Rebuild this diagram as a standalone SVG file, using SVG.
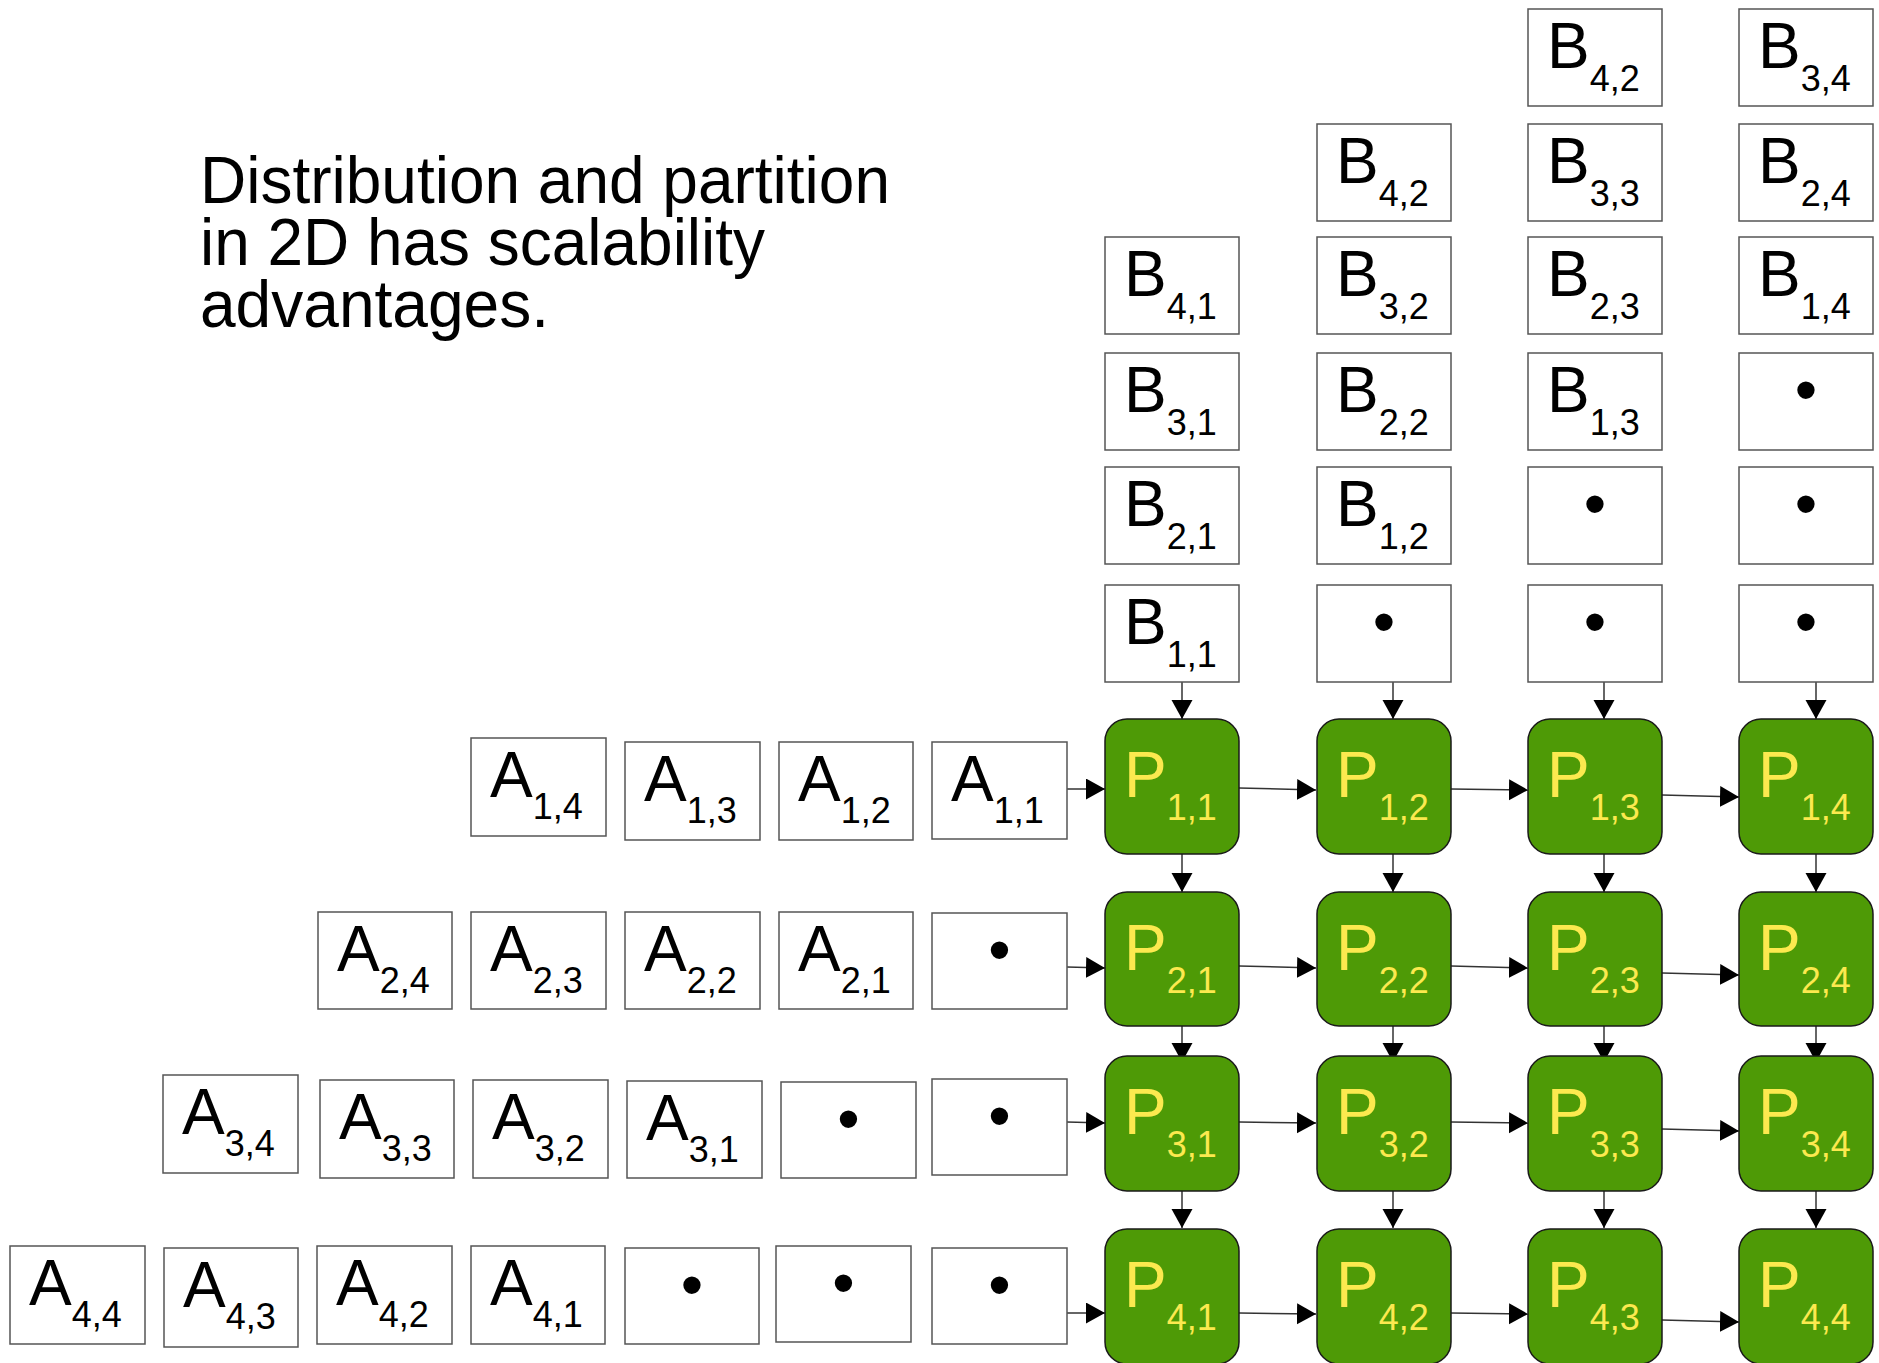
<svg xmlns="http://www.w3.org/2000/svg" width="1879" height="1363" viewBox="0 0 1879 1363">
<style>
.box{fill:#fff;stroke:#555;stroke-width:1.5}
.proc{fill:#4e9a06;stroke:#1a1a1a;stroke-width:1.5}
.lbl{font-family:"Liberation Sans",Arial,Helvetica,sans-serif;font-size:64px;fill:#000}
.plbl{fill:#fce94f}
.sub{font-size:36px}
.dot{text-anchor:middle}
.title{font-family:"Liberation Sans",Arial,Helvetica,sans-serif;font-size:66px;fill:#000}
.conn{stroke:#333;stroke-width:1.5;fill:none;marker-end:url(#ah)}
</style>
<defs>
<marker id="ah" markerUnits="userSpaceOnUse" markerWidth="20" markerHeight="22" refX="19" refY="10.5" orient="auto">
<path d="M0,0 L19,10.5 L0,21 z" fill="#000"/>
</marker>
</defs>
<rect width="1879" height="1363" fill="#fff"/>
<g id="title">
<text class="title" x="200" y="203" textLength="690" lengthAdjust="spacingAndGlyphs">Distribution and partition</text>
<text class="title" x="200" y="265" textLength="565" lengthAdjust="spacingAndGlyphs">in 2D has scalability</text>
<text class="title" x="200" y="327" textLength="349" lengthAdjust="spacingAndGlyphs">advantages.</text>
</g>
<g id="connectors">
<line class="conn" x1="1182" y1="682" x2="1182" y2="719"/>
<line class="conn" x1="1393" y1="682" x2="1393" y2="719"/>
<line class="conn" x1="1604" y1="682" x2="1604" y2="719"/>
<line class="conn" x1="1816" y1="682" x2="1816" y2="719"/>
<line class="conn" x1="1182" y1="854" x2="1182" y2="892"/>
<line class="conn" x1="1393" y1="854" x2="1393" y2="892"/>
<line class="conn" x1="1604" y1="854" x2="1604" y2="892"/>
<line class="conn" x1="1816" y1="854" x2="1816" y2="892"/>
<line class="conn" x1="1182" y1="1026" x2="1182" y2="1062"/>
<line class="conn" x1="1393" y1="1026" x2="1393" y2="1062"/>
<line class="conn" x1="1604" y1="1026" x2="1604" y2="1062"/>
<line class="conn" x1="1816" y1="1026" x2="1816" y2="1062"/>
<line class="conn" x1="1182" y1="1191" x2="1182" y2="1228"/>
<line class="conn" x1="1393" y1="1191" x2="1393" y2="1228"/>
<line class="conn" x1="1604" y1="1191" x2="1604" y2="1228"/>
<line class="conn" x1="1816" y1="1191" x2="1816" y2="1228"/>
<line class="conn" x1="1067" y1="789" x2="1105" y2="789"/>
<line class="conn" x1="1239" y1="788" x2="1316" y2="790"/>
<line class="conn" x1="1451" y1="789" x2="1528" y2="790"/>
<line class="conn" x1="1662" y1="795" x2="1739" y2="797"/>
<line class="conn" x1="1067" y1="967" x2="1105" y2="968"/>
<line class="conn" x1="1239" y1="966" x2="1316" y2="968"/>
<line class="conn" x1="1451" y1="966" x2="1528" y2="968"/>
<line class="conn" x1="1662" y1="973" x2="1739" y2="975"/>
<line class="conn" x1="1067" y1="1122" x2="1105" y2="1123"/>
<line class="conn" x1="1239" y1="1122" x2="1316" y2="1123"/>
<line class="conn" x1="1451" y1="1122" x2="1528" y2="1123"/>
<line class="conn" x1="1662" y1="1129" x2="1739" y2="1131"/>
<line class="conn" x1="1067" y1="1313" x2="1105" y2="1313"/>
<line class="conn" x1="1239" y1="1313" x2="1316" y2="1314"/>
<line class="conn" x1="1451" y1="1313" x2="1528" y2="1314"/>
<line class="conn" x1="1662" y1="1320" x2="1739" y2="1322"/>
</g>
<!-- P nodes -->
<g id="P11"><rect class="proc" x="1105" y="719" width="134" height="135" rx="22"/><text class="lbl plbl" x="1124" y="797">P<tspan class="sub" dy="23">1,1</tspan></text></g>
<g id="P12"><rect class="proc" x="1317" y="719" width="134" height="135" rx="22"/><text class="lbl plbl" x="1336" y="797">P<tspan class="sub" dy="23">1,2</tspan></text></g>
<g id="P13"><rect class="proc" x="1528" y="719" width="134" height="135" rx="22"/><text class="lbl plbl" x="1547" y="797">P<tspan class="sub" dy="23">1,3</tspan></text></g>
<g id="P14"><rect class="proc" x="1739" y="719" width="134" height="135" rx="22"/><text class="lbl plbl" x="1758" y="797">P<tspan class="sub" dy="23">1,4</tspan></text></g>
<g id="P21"><rect class="proc" x="1105" y="892" width="134" height="134" rx="22"/><text class="lbl plbl" x="1124" y="970">P<tspan class="sub" dy="23">2,1</tspan></text></g>
<g id="P22"><rect class="proc" x="1317" y="892" width="134" height="134" rx="22"/><text class="lbl plbl" x="1336" y="970">P<tspan class="sub" dy="23">2,2</tspan></text></g>
<g id="P23"><rect class="proc" x="1528" y="892" width="134" height="134" rx="22"/><text class="lbl plbl" x="1547" y="970">P<tspan class="sub" dy="23">2,3</tspan></text></g>
<g id="P24"><rect class="proc" x="1739" y="892" width="134" height="134" rx="22"/><text class="lbl plbl" x="1758" y="970">P<tspan class="sub" dy="23">2,4</tspan></text></g>
<g id="P31"><rect class="proc" x="1105" y="1056" width="134" height="135" rx="22"/><text class="lbl plbl" x="1124" y="1134">P<tspan class="sub" dy="23">3,1</tspan></text></g>
<g id="P32"><rect class="proc" x="1317" y="1056" width="134" height="135" rx="22"/><text class="lbl plbl" x="1336" y="1134">P<tspan class="sub" dy="23">3,2</tspan></text></g>
<g id="P33"><rect class="proc" x="1528" y="1056" width="134" height="135" rx="22"/><text class="lbl plbl" x="1547" y="1134">P<tspan class="sub" dy="23">3,3</tspan></text></g>
<g id="P34"><rect class="proc" x="1739" y="1056" width="134" height="135" rx="22"/><text class="lbl plbl" x="1758" y="1134">P<tspan class="sub" dy="23">3,4</tspan></text></g>
<g id="P41"><rect class="proc" x="1105" y="1229" width="134" height="135" rx="22"/><text class="lbl plbl" x="1124" y="1307">P<tspan class="sub" dy="23">4,1</tspan></text></g>
<g id="P42"><rect class="proc" x="1317" y="1229" width="134" height="135" rx="22"/><text class="lbl plbl" x="1336" y="1307">P<tspan class="sub" dy="23">4,2</tspan></text></g>
<g id="P43"><rect class="proc" x="1528" y="1229" width="134" height="135" rx="22"/><text class="lbl plbl" x="1547" y="1307">P<tspan class="sub" dy="23">4,3</tspan></text></g>
<g id="P44"><rect class="proc" x="1739" y="1229" width="134" height="135" rx="22"/><text class="lbl plbl" x="1758" y="1307">P<tspan class="sub" dy="23">4,4</tspan></text></g>
<!-- B column 1 -->
<g id="B41"><rect class="box" x="1105" y="237" width="134" height="97"/><text class="lbl" x="1124" y="296">B<tspan class="sub" dy="23">4,1</tspan></text></g>
<g id="B31"><rect class="box" x="1105" y="353" width="134" height="97"/><text class="lbl" x="1124" y="412">B<tspan class="sub" dy="23">3,1</tspan></text></g>
<g id="B21"><rect class="box" x="1105" y="467" width="134" height="97"/><text class="lbl" x="1124" y="526">B<tspan class="sub" dy="23">2,1</tspan></text></g>
<g id="B11"><rect class="box" x="1105" y="585" width="134" height="97"/><text class="lbl" x="1124" y="644">B<tspan class="sub" dy="23">1,1</tspan></text></g>
<!-- B column 2 -->
<g id="B42"><rect class="box" x="1317" y="124" width="134" height="97"/><text class="lbl" x="1336" y="183">B<tspan class="sub" dy="23">4,2</tspan></text></g>
<g id="B32"><rect class="box" x="1317" y="237" width="134" height="97"/><text class="lbl" x="1336" y="296">B<tspan class="sub" dy="23">3,2</tspan></text></g>
<g id="B22"><rect class="box" x="1317" y="353" width="134" height="97"/><text class="lbl" x="1336" y="412">B<tspan class="sub" dy="23">2,2</tspan></text></g>
<g id="B12"><rect class="box" x="1317" y="467" width="134" height="97"/><text class="lbl" x="1336" y="526">B<tspan class="sub" dy="23">1,2</tspan></text></g>
<g id="B2dot5"><rect class="box" x="1317" y="585" width="134" height="97"/><text class="lbl dot" x="1384" y="644">•</text></g>
<!-- B column 3 -->
<g id="B42top"><rect class="box" x="1528" y="9" width="134" height="97"/><text class="lbl" x="1547" y="68">B<tspan class="sub" dy="23">4,2</tspan></text></g>
<g id="B33"><rect class="box" x="1528" y="124" width="134" height="97"/><text class="lbl" x="1547" y="183">B<tspan class="sub" dy="23">3,3</tspan></text></g>
<g id="B23"><rect class="box" x="1528" y="237" width="134" height="97"/><text class="lbl" x="1547" y="296">B<tspan class="sub" dy="23">2,3</tspan></text></g>
<g id="B13"><rect class="box" x="1528" y="353" width="134" height="97"/><text class="lbl" x="1547" y="412">B<tspan class="sub" dy="23">1,3</tspan></text></g>
<g id="B3dot4"><rect class="box" x="1528" y="467" width="134" height="97"/><text class="lbl dot" x="1595" y="526">•</text></g>
<g id="B3dot5"><rect class="box" x="1528" y="585" width="134" height="97"/><text class="lbl dot" x="1595" y="644">•</text></g>
<!-- B column 4 -->
<g id="B34"><rect class="box" x="1739" y="9" width="134" height="97"/><text class="lbl" x="1758" y="68">B<tspan class="sub" dy="23">3,4</tspan></text></g>
<g id="B24"><rect class="box" x="1739" y="124" width="134" height="97"/><text class="lbl" x="1758" y="183">B<tspan class="sub" dy="23">2,4</tspan></text></g>
<g id="B14"><rect class="box" x="1739" y="237" width="134" height="97"/><text class="lbl" x="1758" y="296">B<tspan class="sub" dy="23">1,4</tspan></text></g>
<g id="B4dot3"><rect class="box" x="1739" y="353" width="134" height="97"/><text class="lbl dot" x="1806" y="412">•</text></g>
<g id="B4dot4"><rect class="box" x="1739" y="467" width="134" height="97"/><text class="lbl dot" x="1806" y="526">•</text></g>
<g id="B4dot5"><rect class="box" x="1739" y="585" width="134" height="97"/><text class="lbl dot" x="1806" y="644">•</text></g>
<!-- A row 1 -->
<g id="A14"><rect class="box" x="471" y="738" width="135" height="98"/><text class="lbl" x="490" y="797">A<tspan class="sub" dy="22">1,4</tspan></text></g>
<g id="A13"><rect class="box" x="625" y="742" width="135" height="98"/><text class="lbl" x="644" y="801">A<tspan class="sub" dy="22">1,3</tspan></text></g>
<g id="A12"><rect class="box" x="779" y="742" width="134" height="98"/><text class="lbl" x="798" y="801">A<tspan class="sub" dy="22">1,2</tspan></text></g>
<g id="A11"><rect class="box" x="932" y="742" width="135" height="97"/><text class="lbl" x="951" y="801">A<tspan class="sub" dy="22">1,1</tspan></text></g>
<!-- A row 2 -->
<g id="A24"><rect class="box" x="318" y="912" width="134" height="97"/><text class="lbl" x="337" y="971">A<tspan class="sub" dy="22">2,4</tspan></text></g>
<g id="A23"><rect class="box" x="471" y="912" width="135" height="97"/><text class="lbl" x="490" y="971">A<tspan class="sub" dy="22">2,3</tspan></text></g>
<g id="A22"><rect class="box" x="625" y="912" width="135" height="97"/><text class="lbl" x="644" y="971">A<tspan class="sub" dy="22">2,2</tspan></text></g>
<g id="A21"><rect class="box" x="779" y="912" width="134" height="97"/><text class="lbl" x="798" y="971">A<tspan class="sub" dy="22">2,1</tspan></text></g>
<g id="A2dot1"><rect class="box" x="932" y="913" width="135" height="96"/><text class="lbl dot" x="999.5" y="972">•</text></g>
<!-- A row 3 -->
<g id="A34"><rect class="box" x="163" y="1075" width="135" height="98"/><text class="lbl" x="182" y="1134">A<tspan class="sub" dy="22">3,4</tspan></text></g>
<g id="A33"><rect class="box" x="320" y="1080" width="134" height="98"/><text class="lbl" x="339" y="1139">A<tspan class="sub" dy="22">3,3</tspan></text></g>
<g id="A32"><rect class="box" x="473" y="1080" width="135" height="98"/><text class="lbl" x="492" y="1139">A<tspan class="sub" dy="22">3,2</tspan></text></g>
<g id="A31"><rect class="box" x="627" y="1081" width="135" height="97"/><text class="lbl" x="646" y="1140">A<tspan class="sub" dy="22">3,1</tspan></text></g>
<g id="A3dot1"><rect class="box" x="781" y="1082" width="135" height="96"/><text class="lbl dot" x="848.5" y="1141">•</text></g>
<g id="A3dot2"><rect class="box" x="932" y="1079" width="135" height="96"/><text class="lbl dot" x="999.5" y="1138">•</text></g>
<!-- A row 4 -->
<g id="A44"><rect class="box" x="10" y="1246" width="135" height="98"/><text class="lbl" x="29" y="1305">A<tspan class="sub" dy="22">4,4</tspan></text></g>
<g id="A43"><rect class="box" x="164" y="1248" width="134" height="99"/><text class="lbl" x="183" y="1307">A<tspan class="sub" dy="22">4,3</tspan></text></g>
<g id="A42"><rect class="box" x="317" y="1246" width="135" height="98"/><text class="lbl" x="336" y="1305">A<tspan class="sub" dy="22">4,2</tspan></text></g>
<g id="A41"><rect class="box" x="471" y="1246" width="134" height="98"/><text class="lbl" x="490" y="1305">A<tspan class="sub" dy="22">4,1</tspan></text></g>
<g id="A4dot1"><rect class="box" x="625" y="1248" width="134" height="96"/><text class="lbl dot" x="692" y="1307">•</text></g>
<g id="A4dot2"><rect class="box" x="776" y="1246" width="135" height="96"/><text class="lbl dot" x="843.5" y="1305">•</text></g>
<g id="A4dot3"><rect class="box" x="932" y="1248" width="135" height="96"/><text class="lbl dot" x="999.5" y="1307">•</text></g>
</svg>
